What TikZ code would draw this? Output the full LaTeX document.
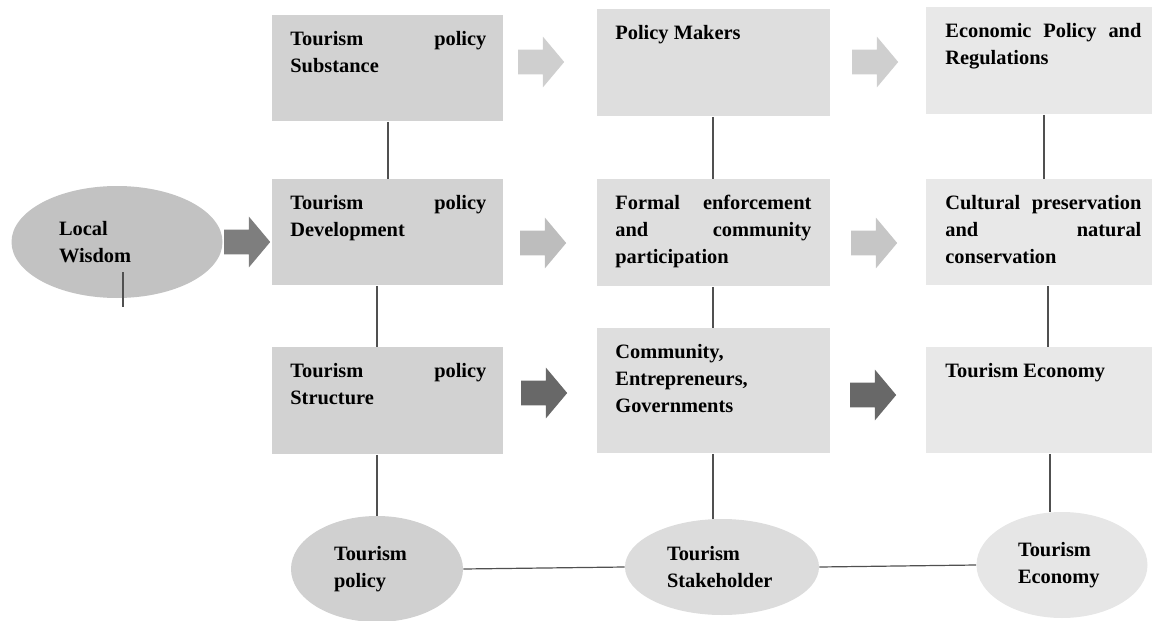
\documentclass[tikz,border=0pt]{standalone}
\usepackage{fontspec}
\setmainfont{Liberation Serif}
\usetikzlibrary{shapes.geometric,shapes.arrows}
\definecolor{colone}{HTML}{D2D2D2}
\definecolor{coltwo}{HTML}{DEDEDE}
\definecolor{colthree}{HTML}{E8E8E8}
\definecolor{ovlw}{HTML}{C2C2C2}
\definecolor{ovone}{HTML}{D0D0D0}
\definecolor{ovtwo}{HTML}{DCDCDC}
\definecolor{ovthree}{HTML}{E6E6E6}
\definecolor{arlight}{HTML}{CFCFCF}
\definecolor{armid}{HTML}{BDBDBD}
\definecolor{armidb}{HTML}{C6C6C6}
\definecolor{ardark}{HTML}{686868}
\definecolor{arlw}{HTML}{7E7E7E}
\definecolor{linegray}{HTML}{505050}
\newcommand{\nohyph}{\hyphenpenalty=10000 \exhyphenpenalty=10000 \tolerance=10000 \hbadness=10000}
\begin{document}
\begin{tikzpicture}[x=0.5pt, y=-0.5pt,
  cell/.style={rectangle, fill=#1, inner sep=0, anchor=north west},
  txt/.style={anchor=north west, inner sep=0, text width=98pt, align=justify,
    font=\bfseries\fontsize{10.2}{13.5}\selectfont\nohyph},
  oval/.style={ellipse, fill=#1, inner sep=0, align=left,
    font=\bfseries\fontsize{10.2}{13.5}\selectfont},
  blk/.style={single arrow, fill=#1, draw=none, inner xsep=0, inner ysep=6pt,
    minimum height=23pt, minimum width=25pt, single arrow head extend=6.5pt,
    single arrow tip angle=100},
  link/.style={draw=linegray, line width=0.6pt}]
\useasboundingbox (0,0) rectangle (1152,621);
% column 1
\node[cell=colone, minimum width=115.5pt, minimum height=53pt] (sub) at (272,15) {};
\node[txt] (subt) at ([shift={(18,16)}]sub.north west) {Tourism policy Substance};
\node[cell=colone, minimum width=115.5pt, minimum height=53pt] (dev) at (272,179) {};
\node[txt] (devt) at ([shift={(18,16)}]dev.north west) {Tourism policy Development};
\node[cell=colone, minimum width=115.5pt, minimum height=53.5pt] (str) at (272,347) {};
\node[txt] (strt) at ([shift={(18,16)}]str.north west) {Tourism policy Structure};
% column 2
\node[cell=coltwo, minimum width=116.5pt, minimum height=53.5pt] (mak) at (597,9) {};
\node[txt] (makt) at ([shift={(18,16)}]mak.north west) {Policy Makers};
\node[cell=coltwo, minimum width=116.5pt, minimum height=53.5pt] (enf) at (597,179) {};
\node[txt] (enft) at ([shift={(18,16)}]enf.north west) {Formal enforcement and community participation};
\node[cell=coltwo, minimum width=116.5pt, minimum height=62.5pt] (com) at (597,328) {};
\node[txt] (comt) at ([shift={(18,16)}]com.north west) {Community, Entrepreneurs, Governments};
% column 3
\node[cell=colthree, minimum width=113pt, minimum height=53.5pt] (reg) at (926,7) {};
\node[txt] (regt) at ([shift={(19,16)}]reg.north west) {Economic Policy and Regulations};
\node[cell=colthree, minimum width=113pt, minimum height=53pt] (cul) at (926,179) {};
\node[txt] (cult) at ([shift={(19,16)}]cul.north west) {Cultural preservation and natural conservation};
\node[cell=colthree, minimum width=113pt, minimum height=53pt] (eco) at (926,347) {};
\node[txt] (ecot) at ([shift={(19,16)}]eco.north west) {Tourism Economy};
% ovals
\node[oval=ovlw, minimum width=105.5pt, minimum height=56pt, text width=58pt] (lw) at (117,242) {Local\\Wisdom};
\node[oval=ovone, minimum width=86pt, minimum height=53pt, text width=43pt] (tp) at (377,569) {Tourism\\policy};
\node[oval=ovtwo, minimum width=97pt, minimum height=48pt, text width=55pt] (ts) at (722,567) {Tourism\\Stakeholder};
\node[oval=ovthree, minimum width=85.5pt, minimum height=53pt, text width=44pt] (te) at (1062,565) {Tourism\\Economy};
% block arrows
\node[blk=arlw] (a0) at (242,242) {};
\node[blk=arlight] (a11) at (536,62) {};
\node[blk=arlight] (a12) at (870,62) {};
\node[blk=armid] (a21) at (538,243) {};
\node[blk=armidb] (a22) at (869,243) {};
\node[blk=ardark] (a31) at (539,393) {};
\node[blk=ardark] (a32) at (868,395) {};
% lines
\coordinate (c1) at (388,0);
\coordinate (c1b) at (377,0);
\coordinate (c2) at (713,0);
\coordinate (c3a) at (1044,0);
\coordinate (c3b) at (1048,0);
\coordinate (c3c) at (1050,0);
\draw[link] (sub.south -| c1) -- (dev.north -| c1);
\draw[link] (dev.south -| c1b) -- (str.north -| c1b);
\draw[link] (str.south -| c1b) -- (tp.north -| c1b);
\draw[link] (mak.south -| c2) -- (enf.north -| c2);
\draw[link] (enf.south -| c2) -- (com.north -| c2);
\draw[link] (com.south -| c2) -- (ts.north -| c2);
\draw[link] (reg.south -| c3a) -- (cul.north -| c3a);
\draw[link] (cul.south -| c3b) -- (eco.north -| c3b);
\draw[link] (eco.south -| c3c) -- (te.north -| c3c);
\draw[link] (tp.east) -- (ts.west);
\draw[link] (ts.east) -- (te.west);
\coordinate (tk1) at (123,272);
\coordinate (tk2) at (123,307);
\draw[link] (tk1) -- (tk2);
\end{tikzpicture}
\end{document}
